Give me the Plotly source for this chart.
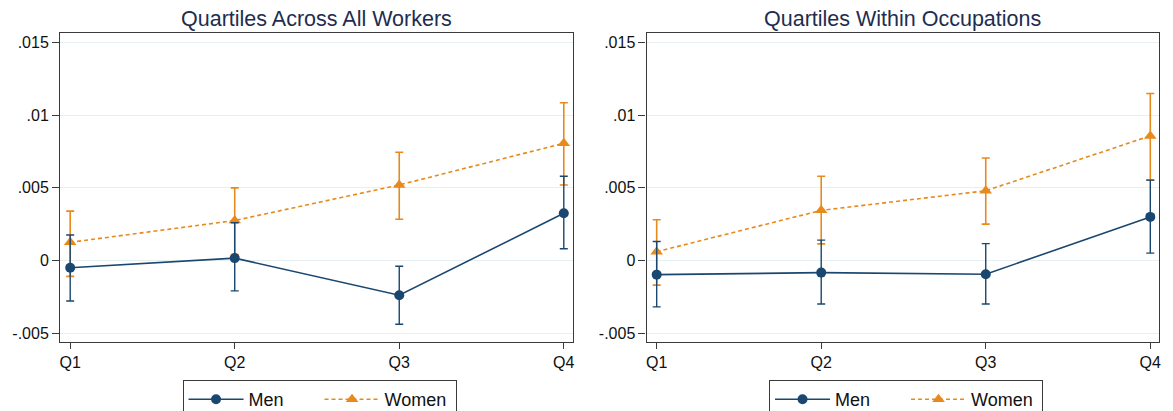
import plotly.graph_objects as go

quartiles = ["Q1", "Q2", "Q3", "Q4"]
xpos = [1, 2, 3, 4]

# Panel 1: Quartiles Across All Workers
men_all = [-0.0005, 0.00016, -0.0024, 0.00325]
men_all_lo = [-0.0028, -0.0021, -0.0044, 0.0008]
men_all_hi = [0.00175, 0.0026, -0.0004, 0.0058]
women_all = [0.00125, 0.00275, 0.0052, 0.00807]
women_all_lo = [-0.0011, 0.0004, 0.00284, 0.0052]
women_all_hi = [0.0034, 0.0050, 0.00745, 0.01086]

# Panel 2: Quartiles Within Occupations
men_occ = [-0.00098, -0.00084, -0.00095, 0.0030]
men_occ_lo = [-0.0032, -0.0030, -0.0030, 0.0005]
men_occ_hi = [0.0013, 0.0014, 0.00116, 0.00553]
women_occ = [0.0006, 0.00345, 0.0048, 0.00858]
women_occ_lo = [-0.0017, 0.00114, 0.0025, 0.00553]
women_occ_hi = [0.0028, 0.0058, 0.00706, 0.0115]

yticks = [-0.005, 0, 0.005, 0.01, 0.015]
yticklabels = ["-.005", "0", ".005", ".01", ".015"]

titles = ["Quartiles Across All Workers", "Quartiles Within Occupations"]

NAVY = "#1a476f"
ORANGE = "#e8891c"
W, H = 1173, 430   # figure is a bit taller than the 411px window; bottom is cropped like the reference
FONT = "Liberation Sans, Arial, sans-serif"

fig = go.Figure()

def add_panel(idx, men, mlo, mhi, wom, wlo, whi):
    xa = "x" if idx == 1 else "x2"
    ya = "y" if idx == 1 else "y2"
    lg = "legend" if idx == 1 else "legend2"
    fig.add_trace(go.Scatter(
        x=xpos, y=wom, mode="lines+markers", name="Women",
        line=dict(color=ORANGE, width=1.6, dash="4px,3px"),
        marker=dict(symbol="triangle-up", size=11, color=ORANGE),
        error_y=dict(type="data", symmetric=False,
                     array=[h - v for h, v in zip(whi, wom)],
                     arrayminus=[v - l for l, v in zip(wlo, wom)],
                     color=ORANGE, thickness=1.6, width=4),
        xaxis=xa, yaxis=ya, legend=lg, legendrank=2))
    fig.add_trace(go.Scatter(
        x=xpos, y=men, mode="lines+markers", name="Men",
        line=dict(color=NAVY, width=1.6),
        marker=dict(symbol="circle", size=10, color=NAVY),
        error_y=dict(type="data", symmetric=False,
                     array=[h - v for h, v in zip(mhi, men)],
                     arrayminus=[v - l for l, v in zip(mlo, men)],
                     color=NAVY, thickness=1.4, width=4),
        xaxis=xa, yaxis=ya, legend=lg, legendrank=1))

add_panel(1, men_all, men_all_lo, men_all_hi, women_all, women_all_lo, women_all_hi)
add_panel(2, men_occ, men_occ_lo, men_occ_hi, women_occ, women_occ_lo, women_occ_hi)

ydom = [1 - 342 / H, 1 - 32.7 / H]
xdoms = [[59.3 / W, 573.3 / W], [647.3 / W, 1161.3 / W]]
yrange = [-0.00562, 0.01569]
xrange = [0.939, 4.055]

axis_common = dict(showline=True, linecolor="#3a3a3a", linewidth=1.3, mirror=True,
                   ticks="outside", tickcolor="#3a3a3a", tickwidth=1,
                   tickfont=dict(family=FONT, size=16, color="#111111"),
                   zeroline=False)

layout = dict(
    width=W, height=H, margin=dict(l=0, r=0, t=0, b=0),
    paper_bgcolor="white", plot_bgcolor="white",
    font=dict(family=FONT, size=16, color="#111111"),
)
for i, (xn, yn) in enumerate([("xaxis", "yaxis"), ("xaxis2", "yaxis2")]):
    layout[xn] = dict(domain=xdoms[i], range=xrange, tickvals=xpos, ticktext=quartiles,
                      showgrid=False, ticklen=6, anchor="y" if i == 0 else "y2", **axis_common)
    layout[yn] = dict(domain=ydom, range=yrange, tickvals=yticks, ticktext=yticklabels,
                      showgrid=True, gridcolor="#e6eff2", gridwidth=1.2, ticklen=7,
                      anchor="x" if i == 0 else "x2", **axis_common)

legend_common = dict(orientation="h", xanchor="left", yanchor="top",
                     bordercolor="#3a3a3a", borderwidth=1, bgcolor="white",
                     font=dict(family=FONT, size=18, color="#111111"),
                     traceorder="normal", itemwidth=55, entrywidth=66)
layout["legend"] = dict(x=182 / W, y=1 - 380 / H, **legend_common)
layout["legend2"] = dict(x=770 / W, y=1 - 380 / H, **legend_common)

annotations = []
for i, t in enumerate(titles):
    cx = (xdoms[i][0] + xdoms[i][1]) / 2
    annotations.append(dict(text=t, x=cx, y=1 - 19 / H, xref="paper", yref="paper",
                            xanchor="center", yanchor="middle", showarrow=False,
                            font=dict(family=FONT, size=21.5, color="#1e2d4f")))
layout["annotations"] = annotations

fig.update_layout(**layout)
fig.write_html("out.html", config={"displayModeBar": False},
               post_script="document.body.style.margin='0';document.body.style.overflow='hidden';")
